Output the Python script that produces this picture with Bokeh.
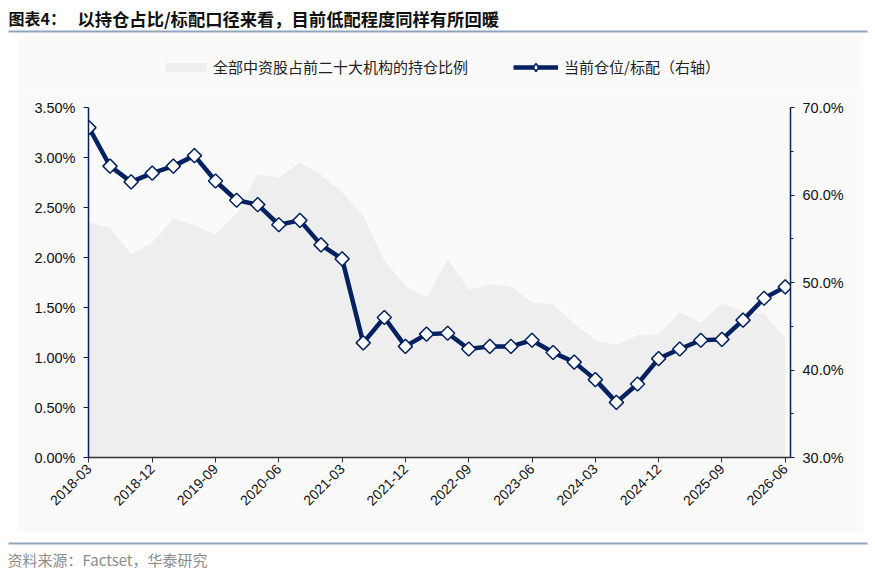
import math
from bokeh.plotting import figure
from bokeh.layouts import column, row
from bokeh.models import (Range1d, LinearAxis, FixedTicker, PrintfTickFormatter, Label,
                          Legend, LegendItem, ColumnDataSource, Spacer)
from bokeh.embed import file_html
from bokeh.resources import INLINE

# ---------------- data ----------------
quarters = ["2018-03", "2018-06", "2018-09", "2018-12", "2019-03", "2019-06", "2019-09", "2019-12",
            "2020-03", "2020-06", "2020-09", "2020-12", "2021-03", "2021-06", "2021-09", "2021-12",
            "2022-03", "2022-06", "2022-09", "2022-12", "2023-03", "2023-06", "2023-09", "2023-12",
            "2024-03", "2024-06", "2024-09", "2024-12", "2025-03", "2025-06", "2025-09", "2025-12",
            "2026-03", "2026-06"]
tick_labels = ["2018-03", "2018-12", "2019-09", "2020-06", "2021-03", "2021-12",
               "2022-09", "2023-06", "2024-03", "2024-12", "2025-09", "2026-06"]
# 全部中资股占前二十大机构的持仓比例 (left axis, %)
holding_share = [2.35, 2.30, 2.03, 2.15, 2.39, 2.32, 2.23, 2.44, 2.83, 2.80, 2.95, 2.83,
                 2.65, 2.42, 1.97, 1.72, 1.60, 1.98, 1.68, 1.73, 1.71, 1.55, 1.53, 1.34,
                 1.17, 1.13, 1.22, 1.23, 1.45, 1.35, 1.54, 1.46, 1.44, 1.19]
# 当前仓位/标配 (right axis, %)
position_ratio = [67.7, 63.3, 61.5, 62.5, 63.3, 64.5, 61.6, 59.4, 58.9, 56.6, 57.1, 54.3,
                  52.7, 43.1, 46.0, 42.7, 44.1, 44.2, 42.4, 42.7, 42.7, 43.4, 42.0, 40.9,
                  38.9, 36.3, 38.4, 41.3, 42.4, 43.4, 43.5, 45.7, 48.2, 49.5]
left_ticks = [0.0, 0.5, 1.0, 1.5, 2.0, 2.5, 3.0, 3.5]
right_ticks = [30, 40, 50, 60, 70]
right_minor = [35, 45, 55, 65]

title_head = "图表4："
title_text = "以持仓占比/标配口径来看，目前低配程度同样有所回暖"
source_text = "资料来源：Factset，华泰研究"
legend_area = "全部中资股占前二十大机构的持仓比例"
legend_line = "当前仓位/标配（右轴）"

NAVY = "#032160"
AREA = "#EEEEEE"
PANEL = "#FAFAFA"
RULE = "#8EA3BE"
CJK = "Noto Sans CJK SC"
LAT = "Liberation Sans"

# ---------------- page geometry (pixels) ----------------
PW = 870                 # page width used
HEAD_H = 90              # header strip: title + legend
PANEL_L, PANEL_R, PANEL_T, PANEL_B = 17, 863, 37, 532
FL, FR, FT, FB = 88, 790, 107, 457    # plot frame edges on the page
FOOT_H = 38

# ---------------- header (title, rule, legend) ----------------
head = figure(width=PW, height=HEAD_H, output_backend="svg", toolbar_location=None,
              x_range=Range1d(0, PW), y_range=Range1d(HEAD_H, 0),
              min_border=0, outline_line_color=None, background_fill_color="white",
              border_fill_color="white")
head.axis.visible = False
head.grid.visible = False
head.quad(left=[PANEL_L], right=[PANEL_R], top=[PANEL_T], bottom=[HEAD_H],
          fill_color=PANEL, line_color=None)
head.quad(left=[8], right=[867], top=[30], bottom=[32], fill_color=RULE, line_color=None)
head.add_layout(Label(x=8, y=17.5, text=title_head, text_font=CJK, text_font_style="bold",
                      text_font_size="16px", text_baseline="middle", text_color="#111111"))
head.add_layout(Label(x=77, y=17.5, text=title_text, text_font=CJK, text_font_style="bold",
                      text_font_size="17.3px", text_baseline="middle", text_color="#111111"))

# legend key proxies (no visible data points; only their styles are used by the legend)
nan = float("nan")
proxy = ColumnDataSource(dict(x=[nan], y=[nan]))
key_area = head.line(x="x", y="y", source=proxy, line_color=AREA, line_width=9, line_cap="butt")
key_line = head.line(x="x", y="y", source=proxy, line_color=NAVY, line_width=4.5)
key_pts = head.scatter(x="x", y="y", source=proxy, marker="diamond", fill_color="white",
                       line_color=NAVY, line_width=1.5)
for items, gx, gw in (([LegendItem(label=legend_area, renderers=[key_area])], 165, 42),
                      ([LegendItem(label=legend_line, renderers=[key_line, key_pts])], 513, 45)):
    lg = Legend(items=items, location=(gx, HEAD_H - 77), orientation="horizontal",
                padding=0, margin=0, border_line_color=None, background_fill_alpha=0,
                glyph_width=gw, glyph_height=20, label_height=20, label_standoff=6,
                label_text_font=CJK, label_text_font_size="15px", label_text_color="#222222")
    head.add_layout(lg, "center")

# ---------------- main chart ----------------
idx = list(range(len(quarters)))
src = ColumnDataSource(dict(x=idx, share=holding_share, ratio=position_ratio))

MAIN_W = PANEL_R - PANEL_L
MAIN_H = PANEL_B - HEAD_H
p = figure(width=MAIN_W, height=MAIN_H, output_backend="svg", toolbar_location=None,
           x_range=Range1d(-0.02, len(quarters) - 1 + 0.25), y_range=Range1d(0, 3.5),
           min_border_left=FL - PANEL_L, min_border_right=PANEL_R - FR,
           min_border_top=FT - HEAD_H, min_border_bottom=PANEL_B - FB,
           background_fill_color=PANEL, border_fill_color=PANEL,
           outline_line_color=None)
p.grid.visible = False
p.extra_y_ranges = {"right": Range1d(30, 70)}

p.varea(x="x", y1=0, y2="share", source=src, fill_color=AREA)
p.line(x="x", y="ratio", source=src, y_range_name="right", line_color=NAVY,
       line_width=4.5, line_join="round")
p.scatter(x="x", y="ratio", source=src, y_range_name="right", marker="square",
          size=10, angle=math.pi / 4, fill_color="white", line_color=NAVY, line_width=1.5)

xa = p.xaxis[0]
tick_idx = [quarters.index(t) for t in tick_labels]
xa.ticker = FixedTicker(ticks=tick_idx, minor_ticks=[])
xa.major_label_overrides = {i: quarters[i] for i in tick_idx}
xa.major_label_orientation = math.pi / 4
xa.axis_line_color = "#333333"
xa.axis_line_width = 1.5
xa.major_tick_line_color = "#333333"
xa.major_tick_out = 5
xa.major_tick_in = 0
xa.major_label_text_font = LAT
xa.major_label_text_font_size = "14px"
xa.major_label_text_color = "#111111"
xa.major_label_standoff = 4

ya = p.yaxis[0]
ya.ticker = FixedTicker(ticks=left_ticks, minor_ticks=[])
ya.formatter = PrintfTickFormatter(format="%.2f%%")
ya.axis_line_color = NAVY
ya.axis_line_width = 1.5
ya.major_tick_line_color = NAVY
ya.major_tick_out = 5
ya.major_tick_in = 0
ya.major_label_text_font = LAT
ya.major_label_text_font_size = "14.5px"
ya.major_label_text_color = "#111111"
ya.major_label_standoff = 8

ra = LinearAxis(y_range_name="right",
                ticker=FixedTicker(ticks=right_ticks, minor_ticks=right_minor),
                formatter=PrintfTickFormatter(format="%.1f%%"))
ra.axis_line_color = NAVY
ra.axis_line_width = 1.5
ra.major_tick_line_color = NAVY
ra.minor_tick_line_color = NAVY
ra.major_tick_out = 4
ra.major_tick_in = 0
ra.minor_tick_out = 3
ra.minor_tick_in = 0
ra.major_label_text_font = LAT
ra.major_label_text_font_size = "14.5px"
ra.major_label_text_color = "#111111"
ra.major_label_standoff = 8
p.add_layout(ra, "right")

# ---------------- footer (rule + source) ----------------
foot = figure(width=PW, height=FOOT_H, output_backend="svg", toolbar_location=None,
              x_range=Range1d(0, PW), y_range=Range1d(FOOT_H, 0),
              min_border=0, outline_line_color=None, background_fill_color="white",
              border_fill_color="white")
foot.axis.visible = False
foot.grid.visible = False
foot.quad(left=[8], right=[867], top=[10], bottom=[12], fill_color=RULE, line_color=None)
foot.add_layout(Label(x=7, y=27, text=source_text, text_font=CJK,
                      text_font_size="15px", text_baseline="middle", text_color="#8C8C8C"))

layout = column(head, row(Spacer(width=PANEL_L, height=MAIN_H), p), foot, spacing=0)
open("out.html", "w").write(file_html(layout, INLINE))
